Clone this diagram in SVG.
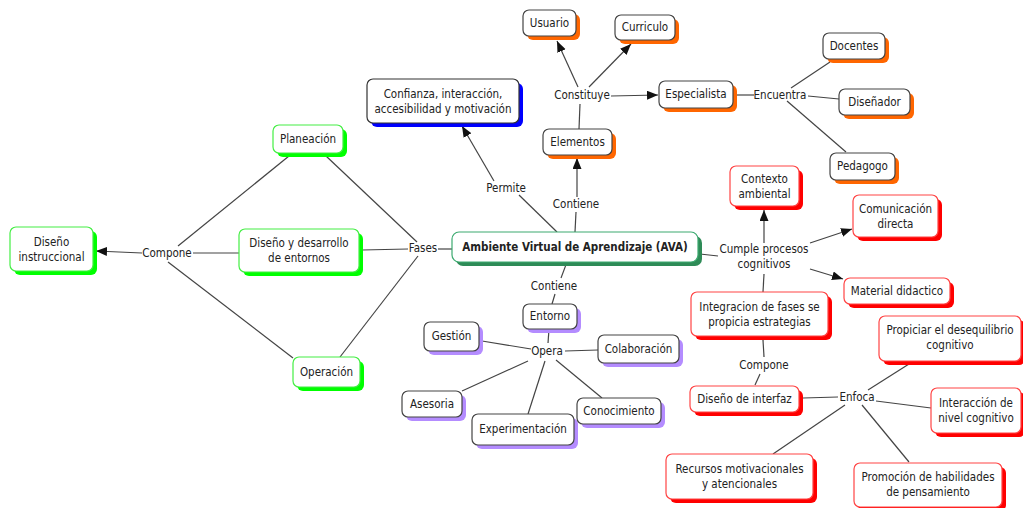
<svg xmlns="http://www.w3.org/2000/svg" width="1023" height="508" viewBox="0 0 1023 508">
<defs>
<marker id="arr" markerUnits="userSpaceOnUse" markerWidth="12" markerHeight="10" refX="11" refY="4.5" orient="auto"><path d="M0,0 L11,4.5 L0,9 z" fill="#111"/></marker>
<style>
text{font-family:"DejaVu Sans Condensed","DejaVu Sans",sans-serif;font-size:11.5px;fill:#222;text-anchor:middle}
.b{font-weight:bold;font-size:11.5px}
.box{fill:#fff;stroke-width:1.2}
.g .sh{fill:#00ff00}.g .box{stroke:#44ee44}
.ava .sh{fill:#2e8b57}.ava .box{stroke:#3caa70}
.bl .sh{fill:#0000ff}.bl .box{stroke:#333}
.o .sh{fill:#ff6600}.o .box{stroke:#444}
.p .sh{fill:#b48cff}.p .box{stroke:#444}
.r .sh{fill:#ff0000}.r .box{stroke:#ff4444}
#connectors line{stroke:#444;stroke-width:1.2}
#connectors line.a{marker-end:url(#arr)}
</style>
</defs>
<rect width="1023" height="508" fill="#fff"/>
<g id="connectors">
<line x1="178" y1="246" x2="289" y2="156"/>
<line x1="193" y1="253" x2="239" y2="253"/>
<line x1="168" y1="262" x2="293" y2="358"/>
<line class="a" x1="142" y1="253" x2="96" y2="251"/>
<line x1="326" y1="156" x2="417" y2="242"/>
<line x1="362" y1="250" x2="408" y2="249"/>
<line x1="340" y1="357" x2="418" y2="256"/>
<line x1="438" y1="249" x2="452" y2="249"/>
<line x1="557" y1="232" x2="519" y2="195"/>
<line class="a" x1="494" y1="181" x2="462" y2="126"/>
<line x1="575" y1="232" x2="576" y2="212"/>
<line class="a" x1="577" y1="197" x2="577" y2="158"/>
<line x1="579" y1="129" x2="580" y2="104"/>
<line class="a" x1="578" y1="87" x2="557" y2="41"/>
<line class="a" x1="589" y1="87" x2="631" y2="44"/>
<line class="a" x1="611" y1="96" x2="658" y2="95"/>
<line x1="737" y1="95" x2="754" y2="95"/>
<line x1="791" y1="88" x2="830" y2="62"/>
<line x1="808" y1="96" x2="839" y2="99"/>
<line x1="787" y1="101" x2="846" y2="152"/>
<line x1="700" y1="254" x2="718" y2="256"/>
<line class="a" x1="764" y1="243" x2="764" y2="210"/>
<line class="a" x1="810" y1="243" x2="852" y2="229"/>
<line class="a" x1="810" y1="269" x2="843" y2="279"/>
<line x1="763" y1="292" x2="764" y2="274"/>
<line x1="763" y1="340" x2="764" y2="357"/>
<line x1="760" y1="374" x2="755" y2="385"/>
<line x1="803" y1="398" x2="838" y2="397"/>
<line x1="868" y1="390" x2="909" y2="364"/>
<line x1="876" y1="401" x2="931" y2="408"/>
<line x1="862" y1="405" x2="909" y2="462"/>
<line x1="845" y1="405" x2="773" y2="454"/>
<line x1="567" y1="262" x2="561" y2="278"/>
<line x1="555" y1="294" x2="552" y2="304"/>
<line x1="549" y1="329" x2="548" y2="343"/>
<line x1="531" y1="349" x2="482" y2="341"/>
<line x1="565" y1="351" x2="598" y2="350"/>
<line x1="528" y1="361" x2="462" y2="391"/>
<line x1="545" y1="361" x2="528" y2="414"/>
<line x1="556" y1="360" x2="602" y2="398"/>
</g>
<g id="labels">
<text x="167" y="257">Compone</text>
<text x="423" y="252">Fases</text>
<text x="506" y="192">Permite</text>
<text x="576" y="208">Contiene</text>
<text x="582" y="99">Constituye</text>
<text x="780" y="99">Encuentra</text>
<text x="554" y="290">Contiene</text>
<text x="547" y="355">Opera</text>
<text x="764" y="253">Cumple procesos</text>
<text x="764" y="268">cognitivos</text>
<text x="764" y="369">Compone</text>
<text x="857" y="401">Enfoca</text>
</g>
<g id="n-diseno-instruccional" class="g"><rect class="sh" x="14" y="231" width="83" height="44" rx="6"/><rect class="box" x="10" y="227" width="83" height="44" rx="6"/><text x="51.5" y="246">Diseño</text><text x="51.5" y="261">instruccional</text></g>
<g id="n-planeacion" class="g"><rect class="sh" x="277" y="129" width="70" height="28" rx="6"/><rect class="box" x="273" y="125" width="70" height="28" rx="6"/><text x="308" y="143">Planeación</text></g>
<g id="n-diseno-desarrollo" class="g"><rect class="sh" x="243" y="233" width="120" height="43" rx="6"/><rect class="box" x="239" y="229" width="120" height="43" rx="6"/><text x="299" y="247">Diseño y desarrollo</text><text x="299" y="262">de entornos</text></g>
<g id="n-operacion" class="g"><rect class="sh" x="297" y="361" width="67" height="30" rx="6"/><rect class="box" x="293" y="357" width="67" height="30" rx="6"/><text x="326.5" y="376">Operación</text></g>
<g id="n-ava" class="ava"><rect class="sh" x="456" y="236" width="246" height="30" rx="7"/><rect class="box" x="452" y="232" width="246" height="30" rx="7"/><text class="b" x="575" y="251">Ambiente Virtual de Aprendizaje (AVA)</text></g>
<g id="n-confianza" class="bl"><rect class="sh" x="371" y="83" width="152" height="44" rx="6"/><rect class="box" x="367" y="79" width="152" height="44" rx="6"/><text x="443" y="98">Confianza, interacción,</text><text x="443" y="113">accesibilidad y motivación</text></g>
<g id="n-elementos" class="o"><rect class="sh" x="547" y="133" width="69" height="26" rx="6"/><rect class="box" x="543" y="129" width="69" height="26" rx="6"/><text x="577.5" y="146">Elementos</text></g>
<g id="n-usuario" class="o"><rect class="sh" x="527" y="14" width="53" height="26" rx="6"/><rect class="box" x="523" y="10" width="53" height="26" rx="6"/><text x="549.5" y="27">Usuario</text></g>
<g id="n-curriculo" class="o"><rect class="sh" x="619" y="19" width="60" height="25" rx="6"/><rect class="box" x="615" y="15" width="60" height="25" rx="6"/><text x="645" y="31">Curriculo</text></g>
<g id="n-especialista" class="o"><rect class="sh" x="663" y="85" width="74" height="27" rx="6"/><rect class="box" x="659" y="81" width="74" height="27" rx="6"/><text x="696" y="98">Especialista</text></g>
<g id="n-docentes" class="o"><rect class="sh" x="827" y="37" width="62" height="26" rx="6"/><rect class="box" x="823" y="33" width="62" height="26" rx="6"/><text x="854" y="50">Docentes</text></g>
<g id="n-disenador" class="o"><rect class="sh" x="843" y="93" width="71" height="26" rx="6"/><rect class="box" x="839" y="89" width="71" height="26" rx="6"/><text x="874.5" y="106">Diseñador</text></g>
<g id="n-pedagogo" class="o"><rect class="sh" x="834" y="157" width="65" height="27" rx="6"/><rect class="box" x="830" y="153" width="65" height="27" rx="6"/><text x="862.5" y="170">Pedagogo</text></g>
<g id="n-entorno" class="p"><rect class="sh" x="527" y="308" width="54" height="25" rx="6"/><rect class="box" x="523" y="304" width="54" height="25" rx="6"/><text x="550" y="320">Entorno</text></g>
<g id="n-gestion" class="p"><rect class="sh" x="428" y="326" width="55" height="29" rx="6"/><rect class="box" x="424" y="322" width="55" height="29" rx="6"/><text x="451.5" y="340">Gestión</text></g>
<g id="n-colaboracion" class="p"><rect class="sh" x="602" y="339" width="81" height="28" rx="6"/><rect class="box" x="598" y="335" width="81" height="28" rx="6"/><text x="638.5" y="353">Colaboración</text></g>
<g id="n-asesoria" class="p"><rect class="sh" x="406" y="395" width="60" height="26" rx="6"/><rect class="box" x="402" y="391" width="60" height="26" rx="6"/><text x="432" y="408">Asesoria</text></g>
<g id="n-experimentacion" class="p"><rect class="sh" x="476" y="418" width="102" height="31" rx="6"/><rect class="box" x="472" y="414" width="102" height="31" rx="6"/><text x="523" y="433">Experimentación</text></g>
<g id="n-conocimiento" class="p"><rect class="sh" x="581" y="402" width="84" height="26" rx="6"/><rect class="box" x="577" y="398" width="84" height="26" rx="6"/><text x="619" y="415">Conocimiento</text></g>
<g id="n-contexto" class="r"><rect class="sh" x="734" y="170" width="69" height="40" rx="6"/><rect class="box" x="730" y="166" width="69" height="40" rx="6"/><text x="764.5" y="183">Contexto</text><text x="764.5" y="198">ambiental</text></g>
<g id="n-comunicacion" class="r"><rect class="sh" x="857" y="199" width="85" height="42" rx="6"/><rect class="box" x="853" y="195" width="85" height="42" rx="6"/><text x="895.5" y="213">Comunicación</text><text x="895.5" y="228">directa</text></g>
<g id="n-material" class="r"><rect class="sh" x="848" y="282" width="106" height="26" rx="6"/><rect class="box" x="844" y="278" width="106" height="26" rx="6"/><text x="897" y="295">Material didactico</text></g>
<g id="n-integracion" class="r"><rect class="sh" x="695" y="296" width="137" height="44" rx="6"/><rect class="box" x="691" y="292" width="137" height="44" rx="6"/><text x="759.5" y="311">Integracion de fases se</text><text x="759.5" y="326">propicia estrategias</text></g>
<g id="n-diseno-interfaz" class="r"><rect class="sh" x="694" y="390" width="109" height="26" rx="6"/><rect class="box" x="690" y="386" width="109" height="26" rx="6"/><text x="744.5" y="403">Diseño de interfaz</text></g>
<g id="n-propiciar" class="r"><rect class="sh" x="883" y="320" width="142" height="45" rx="6"/><rect class="box" x="879" y="316" width="142" height="45" rx="6"/><text x="950" y="334">Propiciar el desequilibrio</text><text x="950" y="349">cognitivo</text></g>
<g id="n-interaccion" class="r"><rect class="sh" x="935" y="392" width="90" height="45" rx="6"/><rect class="box" x="931" y="388" width="90" height="45" rx="6"/><text x="976" y="407">Interacción de</text><text x="976" y="422">nivel cognitivo</text></g>
<g id="n-recursos" class="r"><rect class="sh" x="670" y="458" width="147" height="45" rx="6"/><rect class="box" x="666" y="454" width="147" height="45" rx="6"/><text x="739.5" y="473">Recursos motivacionales</text><text x="739.5" y="488">y atencionales</text></g>
<g id="n-promocion" class="r"><rect class="sh" x="858" y="467" width="148" height="44" rx="6"/><rect class="box" x="854" y="463" width="148" height="44" rx="6"/><text x="928" y="481">Promoción de habilidades</text><text x="928" y="496">de pensamiento</text></g>
</svg>
